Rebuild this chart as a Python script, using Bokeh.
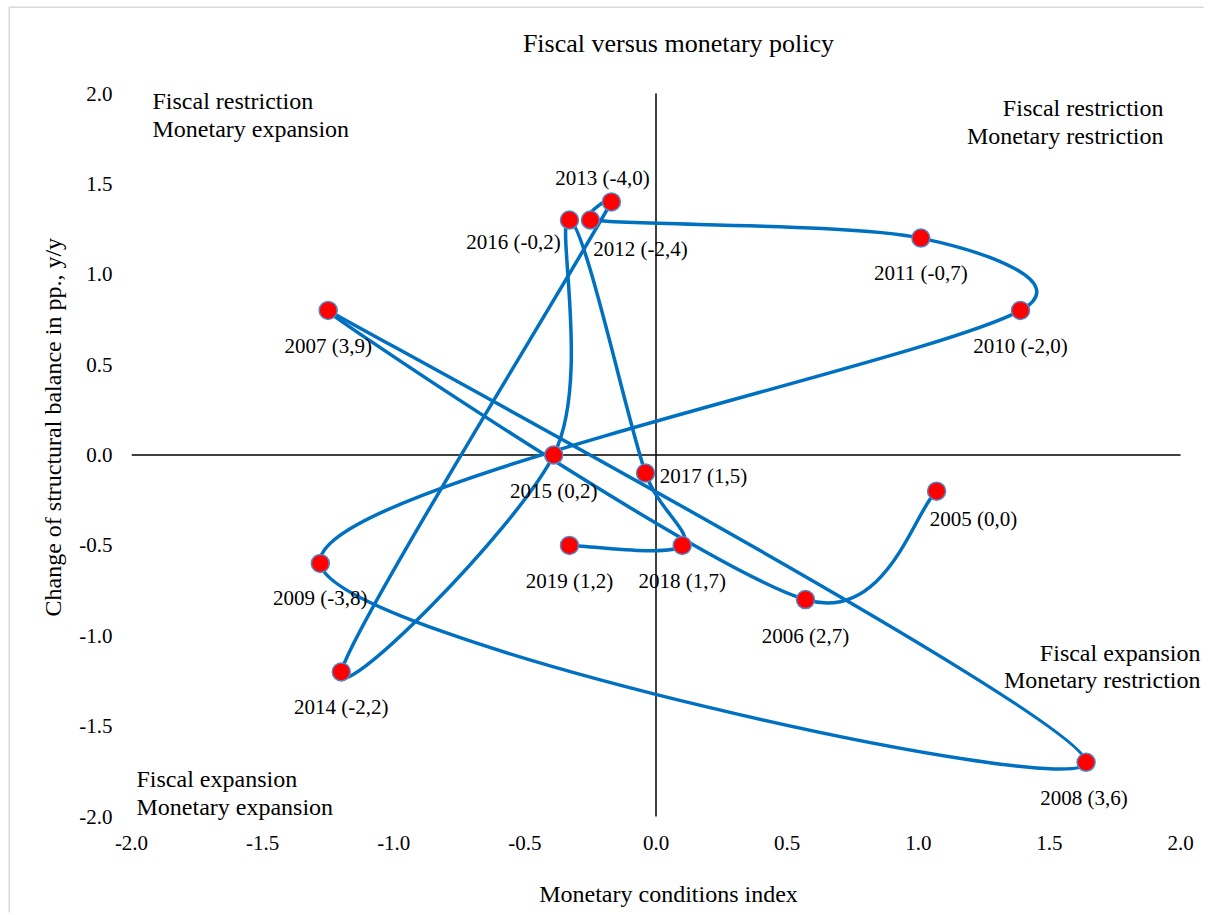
import numpy as np
from bokeh.plotting import figure
from bokeh.models import Range1d, Label, Title, FixedTicker, PrintfTickFormatter, ColumnDataSource
from bokeh.embed import file_html
from bokeh.resources import INLINE
from bokeh.core.properties import value

# ---------------- data ----------------
years = [2005, 2006, 2007, 2008, 2009, 2010, 2011, 2012, 2013, 2014, 2015, 2016, 2017, 2018, 2019]
mci = [1.07, 0.57, -1.25, 1.64, -1.28, 1.39, 1.01, -0.25, -0.17, -1.20, -0.39, -0.33, -0.04, 0.10, -0.33]
balance = [-0.2, -0.8, 0.8, -1.7, -0.6, 0.8, 1.2, 1.3, 1.4, -1.2, 0.0, 1.3, -0.1, -0.5, -0.5]
bracket_values = [0.0, 2.7, 3.9, 3.6, -3.8, -2.0, -0.7, -2.4, -4.0, -2.2, 0.2, -0.2, 1.5, 1.7, 1.2]
x_ticks = [-2.0, -1.5, -1.0, -0.5, 0.0, 0.5, 1.0, 1.5, 2.0]
y_ticks = [-2.0, -1.5, -1.0, -0.5, 0.0, 0.5, 1.0, 1.5, 2.0]
title_text = "Fiscal versus monetary policy"
x_title = "Monetary conditions index"
y_title = "Change of structural balance in pp., y/y"
quadrants = {
    "tl": ["Fiscal restriction", "Monetary expansion"],
    "tr": ["Fiscal restriction", "Monetary restriction"],
    "br": ["Fiscal expansion", "Monetary restriction"],
    "bl": ["Fiscal expansion", "Monetary expansion"],
}

labels = [f"{y} ({v:.1f})".replace(".", ",") for y, v in zip(years, bracket_values)]

# label offsets in pixels (style)
lab_dx = [37, 0, 0, -2, 0, 0, 0, 50, -9, 0, 0, -56, 58, 0, 0]
lab_dy = [28, 36, 36, 36, 35, 36, 35, 29, -24, 35, 36, 22, 3, 36, 36]

FONT = "Liberation Serif"
ML, MT = 10, 8                      # host offset on the page
# data -2..2 maps to these page pixels
AX0, AX1, AY0, AY1 = 131, 1180, 93, 816
# frame box in page pixels (larger than the axis box, so texts are not clipped)
PFL, PFR, PFT, PFB = 131, 1205, 18, 824
W, H = PFR - ML, 906
ux = (AX1 - AX0) / 4.0
uy = (AY1 - AY0) / 4.0

def dx(px):
    return -2 + (px - AX0) / ux
def dy(py):
    return 2 - (py - AY0) / uy

p = figure(width=W, height=H,
           x_range=Range1d(dx(PFL), dx(PFR)), y_range=Range1d(dy(PFB), dy(PFT)),
           output_backend="svg", toolbar_location=None, title=None,
           min_border_left=PFL - ML, min_border_right=0,
           min_border_top=PFT - MT, min_border_bottom=H - (PFB - MT))
p.outline_line_color = None
p.xgrid.visible = False
p.ygrid.visible = False
p.background_fill_color = "white"
p.border_fill_color = "white"
p.styles = {"margin-left": f"{ML}px", "margin-top": f"{MT}px",
            "box-shadow": "-1.5px -1.5px 0 0 #d9d9d9"}

for ax, ticks, standoff in ((p.xaxis[0], x_ticks, 11), (p.yaxis[0], y_ticks, 19)):
    ax.ticker = FixedTicker(ticks=ticks)
    ax.formatter = PrintfTickFormatter(format="%.1f")
    ax.axis_line_color = None
    ax.major_tick_line_color = None
    ax.minor_tick_line_color = None
    ax.major_tick_in = 0
    ax.major_tick_out = 0
    ax.major_label_standoff = standoff
    ax.major_label_text_font = FONT
    ax.major_label_text_font_size = "21px"
    ax.major_label_text_color = "black"

xa = p.xaxis[0]
xa.axis_label = x_title
xa.axis_label_standoff = 28
xa.axis_label_text_font = FONT
xa.axis_label_text_font_size = "24px"
xa.axis_label_text_font_style = "normal"
xa.axis_label_text_color = "black"

# zero lines across the axis box
p.segment(x0=[x_ticks[0]], y0=[0], x1=[x_ticks[-1]], y1=[0], line_color="black", line_width=1.5)
p.segment(x0=[0], y0=[y_ticks[0]], x1=[0], y1=[y_ticks[-1]], line_color="black", line_width=1.5)

# smooth (Excel-like) curve through the points, control points computed in pixel space
P = np.column_stack([np.array(mci) * ux, np.array(balance) * uy])
prev = np.vstack([P[:1], P[:-1]])
nxt = np.vstack([P[1:], P[-1:]])
T = nxt - prev
Tlen = np.hypot(T[:, 0], T[:, 1])
seg = np.hypot(*(P[1:] - P[:-1]).T)
f0 = np.minimum(1 / 6, 0.5 * seg / np.maximum(Tlen[:-1], 1e-9))
f1 = np.minimum(1 / 6, 0.5 * seg / np.maximum(Tlen[1:], 1e-9))
c0 = P[:-1] + T[:-1] * f0[:, None]
c1 = P[1:] - T[1:] * f1[:, None]
scale = np.array([ux, uy])
Pd, c0d, c1d = P / scale, c0 / scale, c1 / scale
p.bezier(x0=Pd[:-1, 0], y0=Pd[:-1, 1], x1=Pd[1:, 0], y1=Pd[1:, 1],
         cx0=c0d[:, 0], cy0=c0d[:, 1], cx1=c1d[:, 0], cy1=c1d[:, 1],
         line_color="#0070C0", line_width=3.5)

src = ColumnDataSource(dict(x=mci, y=balance, text=labels, dx=lab_dx, dy=lab_dy))
p.scatter("x", "y", source=src, size=18, fill_color="#FF0000", line_color="#5585C8", line_width=1.5)
p.text("x", "y", text="text", source=src, x_offset="dx", y_offset="dy",
       text_align="center", text_baseline="middle",
       text_font=value(FONT), text_font_size=value("21px"), text_color="black")

def lab(text, px, py, align="left", size="24px"):
    p.add_layout(Label(x=dx(px), y=dy(py), text=text, text_font=FONT, text_font_size=size,
                       text_align=align, text_baseline="middle", text_color="black"))

lab(title_text, 678, 43, "center", "26px")
lab(quadrants["tl"][0], 152, 100, "left")
lab(quadrants["tl"][1], 152, 128, "left")
lab(quadrants["tr"][0], 1163, 107, "right")
lab(quadrants["tr"][1], 1163, 135, "right")
lab(quadrants["br"][0], 1200, 652, "right")
lab(quadrants["br"][1], 1200, 679, "right")
lab(quadrants["bl"][0], 136, 778, "left")
lab(quadrants["bl"][1], 136, 806, "left")

# vertical axis title in the left panel
p.add_layout(Title(text=y_title, align="left", offset=PFB - 616, standoff=21,
                   text_font=FONT, text_font_size="24px", text_font_style="normal",
                   text_color="black"), "left")

open("out.html", "w").write(file_html(p, INLINE))
